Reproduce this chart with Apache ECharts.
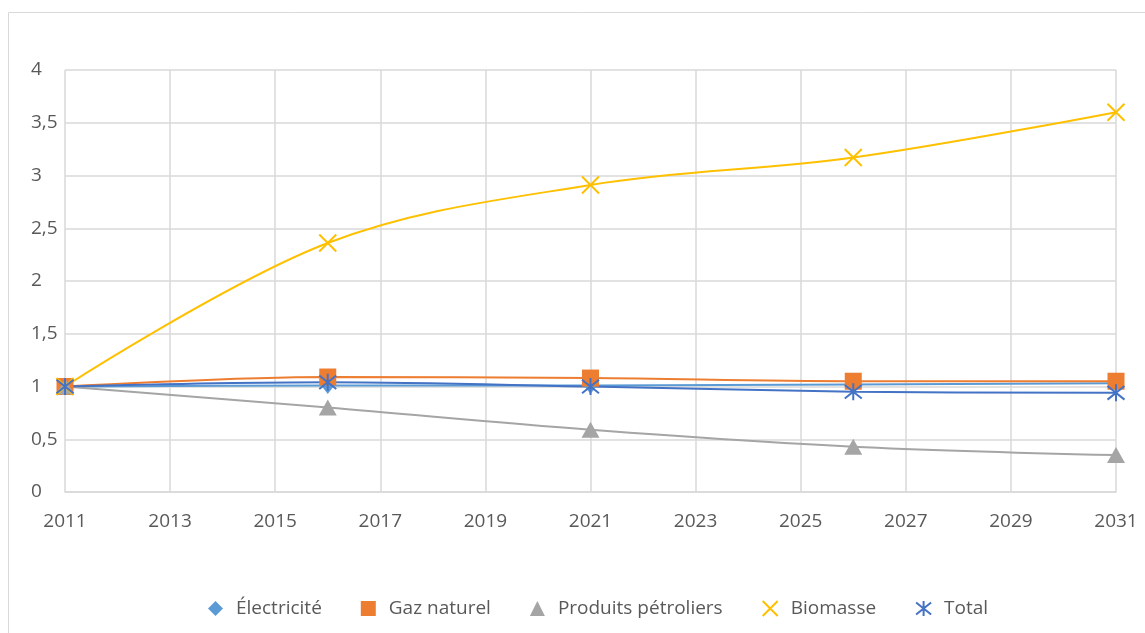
<!DOCTYPE html>
<html>
<head>
<meta charset="utf-8">
<script src="https://cdn.jsdelivr.net/npm/echarts@6/dist/echarts.min.js"></script>
<style>
  html, body { margin: 0; padding: 0; background: #fff; }
  #chart { width: 1145px; height: 633px; }
</style>
</head>
<body>
<div id="chart"></div>
<script>
  // années des points
  var years = [2011, 2016, 2021, 2026, 2031];
  var electricite = [1, 1.01, 1.01, 1.02, 1.03];
  var gazNaturel = [1, 1.09, 1.08, 1.05, 1.05];
  var produitsPetroliers = [1, 0.8, 0.59, 0.43, 0.35];
  var biomasse = [1, 2.36, 2.91, 3.17, 3.6];
  var total = [1, 1.04, 1.0, 0.95, 0.94];

  function pairs(vals) {
    return years.map(function (y, i) { return [y, vals[i]]; });
  }

  var crossPath = 'path://M0,0L10,10M10,0L0,10';
  var starPath = 'path://M5,0L5,10M0,1L10,9M0,9L10,1';

  var myChart = echarts.init(document.getElementById('chart'));
  var font = '"Open Sans", sans-serif';

  var option = {
    backgroundColor: '#fff',
    animation: false,
    textStyle: { fontFamily: font },
    graphic: [{
      type: 'rect',
      shape: { x: 8.5, y: 12.5, width: 1145, height: 640 },
      style: { fill: 'none', stroke: '#d9d9d9', lineWidth: 1 },
      silent: true
    }],
    grid: { left: 65, right: 29, top: 70, bottom: 141 },
    legend: {
      bottom: 10,
      left: 203,
      itemWidth: 15,
      itemHeight: 15,
      itemGap: 39,
      textStyle: { color: '#595959', fontSize: 19, fontFamily: font, padding: [0, 0, 0, 8] },
      data: [
        { name: 'Électricité', icon: 'diamond' },
        { name: 'Gaz naturel', icon: 'rect' },
        { name: 'Produits pétroliers', icon: 'triangle' },
        { name: 'Biomasse', icon: crossPath },
        { name: 'Total', icon: starPath }
      ]
    },
    xAxis: {
      type: 'value',
      min: 2011,
      max: 2031,
      interval: 2,
      axisLine: { show: true, lineStyle: { color: '#d9d9d9', width: 1.5 } },
      axisTick: { show: false },
      splitLine: { show: true, lineStyle: { color: '#d9d9d9', width: 1.5 } },
      axisLabel: {
        color: '#595959', fontSize: 19, margin: 20, fontFamily: font,
        formatter: function (v) { return String(v); }
      }
    },
    yAxis: {
      type: 'value',
      min: 0,
      max: 4,
      interval: 0.5,
      axisLine: { show: false },
      axisTick: { show: false },
      splitLine: { show: true, lineStyle: { color: '#d9d9d9', width: 1.5 } },
      axisLabel: {
        color: '#595959', fontSize: 19, margin: 34, align: 'left', fontFamily: font,
        formatter: function (v) { return String(v).replace('.', ','); }
      }
    },
    series: [
      {
        name: 'Électricité', type: 'line', smooth: 0.35, data: pairs(electricite),
        symbol: 'diamond', symbolSize: [13, 17],
        itemStyle: { color: '#5B9BD5' },
        lineStyle: { color: '#5B9BD5', width: 2 }
      },
      {
        name: 'Gaz naturel', type: 'line', smooth: 0.35, data: pairs(gazNaturel),
        symbol: 'rect', symbolSize: 17,
        itemStyle: { color: '#ED7D31' },
        lineStyle: { color: '#ED7D31', width: 2 }
      },
      {
        name: 'Produits pétroliers', type: 'line', smooth: 0.35, data: pairs(produitsPetroliers),
        symbol: 'triangle', symbolSize: [18, 16],
        itemStyle: { color: '#A5A5A5' },
        lineStyle: { color: '#A5A5A5', width: 2 }
      },
      {
        name: 'Biomasse', type: 'line', smooth: 0.35, data: pairs(biomasse),
        symbol: crossPath, symbolSize: 17,
        itemStyle: { color: '#FFC000', borderColor: '#FFC000', borderWidth: 2 },
        lineStyle: { color: '#FFC000', width: 2 }
      },
      {
        name: 'Total', type: 'line', smooth: 0.35, data: pairs(total),
        symbol: starPath, symbolSize: 17,
        itemStyle: { color: '#4472C4', borderColor: '#4472C4', borderWidth: 2 },
        lineStyle: { color: '#4472C4', width: 2 }
      }
    ]
  };

  myChart.setOption(option);
</script>
</body>
</html>
